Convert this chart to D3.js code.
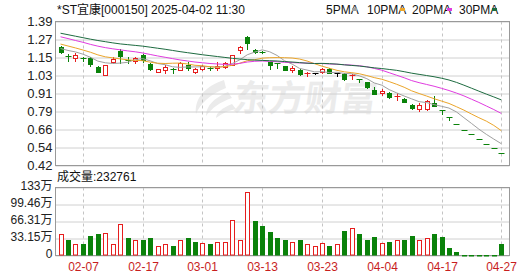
<!DOCTYPE html>
<html>
<head>
<meta charset="utf-8">
<script src="https://cdn.jsdelivr.net/npm/d3@7"></script>
<style>
  body { margin: 0; background: #fff; }
  svg { display: block; font-family: "Liberation Sans", "Noto Sans CJK SC", sans-serif; }
</style>
</head>
<body>
<svg id="chart" width="530" height="276"></svg>
<script>
// Data
const dates = [
  '02-03', '02-04', '02-05', '02-07', '02-08', '02-09', '02-10', '02-11', '02-13', '02-14',
  '02-16', '02-17', '02-18', '02-20', '02-21', '02-23', '02-24', '02-25', '02-27', '03-01',
  '03-02', '03-04', '03-05', '03-07', '03-08', '03-10', '03-11', '03-13', '03-14', '03-15',
  '03-17', '03-18', '03-19', '03-20', '03-22', '03-23', '03-25', '03-26', '03-28', '03-29',
  '03-31', '04-01', '04-02', '04-04', '04-05', '04-07', '04-08', '04-10', '04-11', '04-13',
  '04-14', '04-17', '04-18', '04-19', '04-20', '04-21', '04-23', '04-24', '04-25', '04-27'];

const openPrices = [
  1.221, 1.155, 1.142, 1.144, 1.143, 1.086, 1.028, 1.117, 1.194, 1.128,
  1.125, 1.165, 1.104, 1.050, 1.063, 1.073, 1.063, 1.097, 1.052, 1.068,
  1.080, 1.075, 1.086, 1.097, 1.199, 1.285, 1.199, 1.185, 1.115, 1.108,
  1.090, 1.064, 1.064, 1.035, 1.041, 1.052, 1.070, 1.045, 1.035, 1.026,
  1.000, 0.980, 0.928, 0.906, 0.910, 0.884, 0.868, 0.827, 0.800, 0.800,
  0.843, 0.792, 0.744, 0.697, 0.658, 0.631, 0.597, 0.568, 0.535, 0.505];
const highPrices = [
  1.228, 1.170, 1.176, 1.153, 1.153, 1.093, 1.097, 1.153, 1.203, 1.150,
  1.153, 1.170, 1.108, 1.072, 1.095, 1.080, 1.120, 1.115, 1.080, 1.100,
  1.090, 1.115, 1.120, 1.165, 1.228, 1.289, 1.207, 1.190, 1.115, 1.108,
  1.092, 1.088, 1.068, 1.052, 1.045, 1.080, 1.075, 1.045, 1.040, 1.035,
  1.000, 0.985, 0.950, 0.933, 0.917, 0.910, 0.875, 0.833, 0.843, 0.858,
  0.885, 0.792, 0.744, 0.697, 0.658, 0.631, 0.597, 0.568, 0.535, 0.505];
const lowPrices = [
  1.176, 1.126, 1.126, 1.126, 1.090, 1.048, 1.028, 1.109, 1.109, 1.109,
  1.110, 1.115, 1.065, 1.050, 1.045, 1.045, 1.060, 1.063, 1.045, 1.063,
  1.063, 1.063, 1.080, 1.097, 1.180, 1.205, 1.176, 1.175, 1.068, 1.078,
  1.060, 1.052, 1.030, 1.025, 1.036, 1.041, 1.040, 1.025, 0.996, 1.000,
  0.985, 0.945, 0.900, 0.895, 0.877, 0.861, 0.845, 0.800, 0.790, 0.797,
  0.818, 0.770, 0.725, 0.697, 0.658, 0.631, 0.597, 0.568, 0.535, 0.505];
const closePrices = [
  1.183, 1.152, 1.165, 1.142, 1.102, 1.052, 1.097, 1.140, 1.160, 1.125,
  1.143, 1.130, 1.068, 1.070, 1.085, 1.070, 1.113, 1.080, 1.070, 1.093,
  1.073, 1.093, 1.109, 1.165, 1.221, 1.244, 1.183, 1.180, 1.100, 1.098,
  1.064, 1.075, 1.035, 1.041, 1.041, 1.070, 1.045, 1.045, 1.000, 1.030,
  1.000, 0.950, 0.900, 0.924, 0.883, 0.890, 0.845, 0.805, 0.826, 0.854,
  0.820, 0.792, 0.744, 0.697, 0.658, 0.631, 0.597, 0.568, 0.535, 0.505];

// Volume in shares
const volumes = [
  410000, 312000, 215000, 215000, 390000, 410000, 435000, 215000, 605000, 332000,
  293000, 312000, 351000, 176000, 215000, 195000, 293000, 332000, 273000, 240000,
  215000, 273000, 273000, 696000, 293000, 1234000, 682000, 579000, 454000, 338000,
  293000, 273000, 312000, 215000, 176000, 240000, 195000, 228000, 474000, 540000,
  410000, 312000, 370000, 240000, 273000, 293000, 312000, 390000, 293000, 332000,
  410000, 370000, 137000, 59000, 15000, 12000, 12000, 12000, 15000, 232761];

const ma5 = [
  1.208, 1.195, 1.185, 1.170, 1.149, 1.123, 1.112, 1.107, 1.110, 1.115,
  1.133, 1.140, 1.125, 1.107, 1.099, 1.085, 1.081, 1.084, 1.084, 1.085,
  1.086, 1.082, 1.088, 1.107, 1.132, 1.166, 1.184, 1.199, 1.186, 1.161,
  1.125, 1.103, 1.074, 1.063, 1.051, 1.052, 1.046, 1.048, 1.040, 1.038,
  1.024, 1.005, 0.976, 0.961, 0.931, 0.909, 0.888, 0.869, 0.850, 0.844,
  0.830, 0.819, 0.807, 0.781, 0.742, 0.704, 0.665, 0.630, 0.598, 0.567];
const ma10 = [
  1.238, 1.225, 1.212, 1.198, 1.183, 1.165, 1.152, 1.145, 1.138, 1.132,
  1.128, 1.126, 1.116, 1.109, 1.107, 1.109, 1.110, 1.104, 1.095, 1.092,
  1.085, 1.082, 1.086, 1.095, 1.109, 1.126, 1.133, 1.143, 1.146, 1.147,
  1.146, 1.144, 1.137, 1.124, 1.106, 1.089, 1.075, 1.061, 1.051, 1.045,
  1.038, 1.026, 1.012, 1.001, 0.985, 0.967, 0.947, 0.923, 0.905, 0.888,
  0.870, 0.854, 0.838, 0.816, 0.793, 0.767, 0.742, 0.719, 0.690, 0.655];
const ma20 = [
  1.287, 1.275, 1.262, 1.250, 1.236, 1.224, 1.214, 1.206, 1.199, 1.192,
  1.186, 1.178, 1.168, 1.158, 1.149, 1.140, 1.131, 1.124, 1.117, 1.112,
  1.107, 1.104, 1.101, 1.102, 1.108, 1.117, 1.122, 1.124, 1.121, 1.119,
  1.115, 1.113, 1.111, 1.110, 1.107, 1.107, 1.104, 1.102, 1.099, 1.096,
  1.092, 1.085, 1.074, 1.062, 1.045, 1.028, 1.011, 0.992, 0.978, 0.966,
  0.954, 0.940, 0.925, 0.908, 0.889, 0.867, 0.845, 0.821, 0.797, 0.771];
const ma30 = [
  1.311, 1.301, 1.291, 1.281, 1.271, 1.262, 1.254, 1.246, 1.239, 1.234,
  1.229, 1.224, 1.217, 1.210, 1.203, 1.195, 1.187, 1.180, 1.173, 1.166,
  1.160, 1.154, 1.148, 1.142, 1.137, 1.133, 1.130, 1.128, 1.126, 1.124,
  1.120, 1.117, 1.113, 1.109, 1.107, 1.108, 1.106, 1.103, 1.098, 1.094,
  1.090, 1.084, 1.078, 1.073, 1.067, 1.061, 1.052, 1.042, 1.034, 1.026,
  1.018, 1.008, 0.996, 0.980, 0.961, 0.941, 0.921, 0.901, 0.882, 0.862];

const priceTickLabels = ['0.42', '0.54', '0.66', '0.79', '0.91', '1.03', '1.15', '1.27', '1.39'];
const volTickLabels = ['0', '33.15万', '66.31万', '99.46万', '133万'];
const dateTickLabels = ['02-07', '02-17', '03-01', '03-13', '03-23', '04-04', '04-17', '04-27'];

const maNames = ['5PMA', '10PMA', '20PMA', '30PMA'];
const maColors = ['#a0a0a0', '#eba52a', '#e03ce0', '#1d6b40'];

const RED = '#e61e1e';
const GREEN = '#0a820a';
const PRICE_MIN = 0.42, PRICE_MAX = 1.39, VOL_MAX = 1326150;

const svg = d3.select('#chart');
const left = 55.5, right = 509.5;

const x = d3.scaleBand().domain(dates).range([56.8, 505]);
const bw = x.bandwidth();
const cx = d => Math.round(x(d) + bw / 2);

const yPrice = d3.scaleLinear().domain([PRICE_MIN, PRICE_MAX]).range([165.5, 21.5]);
const yVol = d3.scaleLinear().domain([0, VOL_MAX]).range([255.5, 187.5]);

const priceTickVals = d3.range(9).map(i => PRICE_MIN + i * (PRICE_MAX - PRICE_MIN) / 8);
const volTickVals = d3.range(5).map(i => i * VOL_MAX / 4);

// Watermark
const wm = svg.append('g').attr('fill', '#ebebeb').attr('stroke', 'none');
wm.append('path')
  .attr('d', 'M224,80 C206,86 194,98 196,114 C200,104 210,94 226,88 Z' +
             'M228,92 C214,98 206,106 206,116 C212,108 220,102 232,98 Z' +
             'M232,104 C222,108 216,113 216,118 C222,113 230,110 236,109 Z');
wm.append('text')
  .attr('x', 233).attr('y', 111)
  .attr('font-family', '"Noto Sans CJK SC"')
  .attr('font-weight', 'bold')
  .attr('font-size', 36)
  .attr('transform', 'skewX(-8) translate(14,0)')
  .text('东方财富');

// Grid lines
function grid(scale, vals) {
  svg.append('g')
    .attr('transform', `translate(${left},0)`)
    .call(d3.axisRight(scale).tickValues(vals).tickSize(right - left).tickFormat(''))
    .call(g => g.select('.domain').remove())
    .call(g => g.selectAll('line').attr('stroke', '#d0d0d0'));
}
grid(yPrice, priceTickVals);
grid(yVol, volTickVals);

[[21.5, 165.5], [187.5, 255.5]].forEach(([t, b]) => {
  svg.append('g')
    .selectAll('line')
    .data(dateTickLabels)
    .join('line')
    .attr('x1', d => cx(d) + 0.5).attr('x2', d => cx(d) + 0.5)
    .attr('y1', t).attr('y2', b)
    .attr('stroke', '#c4c4c4')
    .attr('stroke-dasharray', '3,3');
  svg.append('rect')
    .attr('x', left).attr('y', t)
    .attr('width', right - left).attr('height', b - t)
    .attr('fill', 'none').attr('stroke', '#999');
});

// Candles
function candleColor(i) {
  const o = openPrices[i], c = closePrices[i];
  if (c > o) return RED;
  if (c < o) return GREEN;
  const prev = i > 0 ? closePrices[i - 1] : c;
  return c > prev ? RED : c < prev ? GREEN : '#000';
}

const candles = svg.append('g');
dates.forEach((d, i) => {
  const o = openPrices[i], c = closePrices[i];
  const col = candleColor(i);
  const xc = cx(d) + 0.5;
  const g = candles.append('g');
  const top = yPrice(Math.max(o, c)), bot = yPrice(Math.min(o, c));
  g.append('line')
    .attr('x1', xc).attr('x2', xc)
    .attr('y1', Math.round(yPrice(highPrices[i])))
    .attr('y2', Math.round(yPrice(lowPrices[i])) + 1)
    .attr('stroke', col);
  if (bot - top < 1.5) {
    g.append('line')
      .attr('x1', xc - 3).attr('x2', xc + 3)
      .attr('y1', Math.round(top) + 0.5).attr('y2', Math.round(top) + 0.5)
      .attr('stroke', col);
  } else {
    g.append('rect')
      .attr('x', xc - 2).attr('width', 4)
      .attr('y', Math.round(top) + 0.5)
      .attr('height', Math.max(1, Math.round(bot) - Math.round(top)))
      .attr('fill', c > o ? '#fff' : col)
      .attr('stroke', col);
  }
});

// Moving averages
const lineGen = arr => d3.line()
  .x((d, i) => x(dates[i]) + bw / 2)
  .y(v => yPrice(v))(arr);
[ma5, ma10, ma20, ma30].forEach((arr, k) => {
  svg.append('path')
    .attr('d', lineGen(arr))
    .attr('fill', 'none')
    .attr('stroke', maColors[k])
    .attr('stroke-width', 1);
});

// Volume bars
svg.append('g')
  .selectAll('rect')
  .data(volumes)
  .join('rect')
  .attr('x', (v, i) => cx(dates[i]) - 1.5)
  .attr('width', 4)
  .attr('y', v => Math.round(yVol(v)) + 0.5)
  .attr('height', v => Math.max(0.5, 255 - Math.round(yVol(v)) - 0.5))
  .attr('fill', (v, i) => (i === 0 || closePrices[i] >= closePrices[i - 1]) ? '#fff' : GREEN)
  .attr('stroke', (v, i) => (i === 0 || closePrices[i] >= closePrices[i - 1]) ? RED : GREEN);

// Axis labels
svg.append('g')
  .attr('transform', `translate(${left},0)`)
  .call(d3.axisLeft(yPrice).tickValues(priceTickVals)
    .tickFormat((d, i) => priceTickLabels[i]).tickSize(0).tickPadding(3))
  .call(g => g.select('.domain').remove())
  .call(g => g.selectAll('text').attr('font-size', 13).attr('fill', '#222')
    .attr('font-family', '"Liberation Sans", "Noto Sans CJK SC"'));

svg.append('g')
  .attr('transform', `translate(${left},-1.5)`)
  .call(d3.axisLeft(yVol).tickValues(volTickVals)
    .tickFormat((d, i) => volTickLabels[i]).tickSize(0).tickPadding(3))
  .call(g => g.select('.domain').remove())
  .call(g => g.selectAll('text').attr('font-size', 12).attr('fill', '#222')
    .attr('font-family', '"Liberation Sans", "Noto Sans CJK SC"'));

svg.append('g')
  .selectAll('text')
  .data(dateTickLabels)
  .join('text')
  .attr('x', d => cx(d) + 0.5)
  .attr('y', 271)
  .attr('text-anchor', 'middle')
  .attr('font-size', 12)
  .attr('fill', '#c81e1e')
  .text(d => d);

// Title and legend
svg.append('text')
  .attr('x', 57).attr('y', 14)
  .attr('font-size', 12)
  .attr('fill', '#111')
  .text('*ST宜康[000150] 2025-04-02 11:30');

const legendX = [326, 367, 412, 459];
const markerX = [352, 400, 447, 492];
maNames.forEach((name, k) => {
  svg.append('text')
    .attr('x', legendX[k]).attr('y', 14)
    .attr('font-size', 12)
    .attr('fill', '#111')
    .text(name);
  svg.append('rect')
    .attr('x', markerX[k]).attr('y', 8)
    .attr('width', 5).attr('height', 3)
    .attr('fill', maColors[k]);
});

svg.append('text')
  .attr('x', 57).attr('y', 181)
  .attr('font-size', 12)
  .attr('fill', '#111')
  .text('成交量:' + volumes[volumes.length - 1]);
</script>
</body>
</html>
